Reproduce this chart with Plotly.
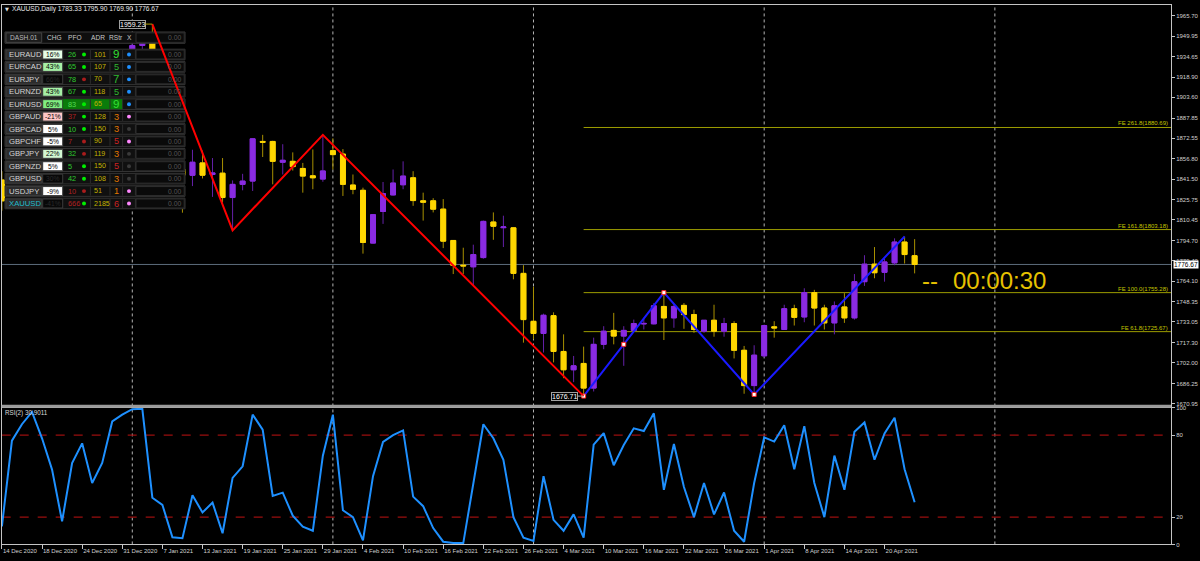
import datetime as dt
import plotly.graph_objects as go

W, H = 1200, 561

# ---------------- data ----------------
dates = [
    "2020-12-14", "2020-12-15", "2020-12-16", "2020-12-17", "2020-12-18", "2020-12-21", "2020-12-22",
    "2020-12-23", "2020-12-24", "2020-12-28", "2020-12-29", "2020-12-30", "2020-12-31",
    "2021-01-04", "2021-01-05", "2021-01-06", "2021-01-07", "2021-01-08", "2021-01-11", "2021-01-12",
    "2021-01-13", "2021-01-14", "2021-01-15", "2021-01-18", "2021-01-19", "2021-01-20", "2021-01-21",
    "2021-01-22", "2021-01-25", "2021-01-26", "2021-01-27", "2021-01-28", "2021-01-29",
    "2021-02-01", "2021-02-02", "2021-02-03", "2021-02-04", "2021-02-05", "2021-02-08", "2021-02-09",
    "2021-02-10", "2021-02-11", "2021-02-12", "2021-02-15", "2021-02-16", "2021-02-17", "2021-02-18",
    "2021-02-19", "2021-02-22", "2021-02-23", "2021-02-24", "2021-02-25", "2021-02-26",
    "2021-03-01", "2021-03-02", "2021-03-03", "2021-03-04", "2021-03-05", "2021-03-08", "2021-03-09",
    "2021-03-10", "2021-03-11", "2021-03-12", "2021-03-15", "2021-03-16", "2021-03-17", "2021-03-18",
    "2021-03-19", "2021-03-22", "2021-03-23", "2021-03-24", "2021-03-25", "2021-03-26", "2021-03-29",
    "2021-03-30", "2021-03-31",
    "2021-04-01", "2021-04-05", "2021-04-06", "2021-04-07", "2021-04-08", "2021-04-09", "2021-04-12",
    "2021-04-13", "2021-04-14", "2021-04-15", "2021-04-16", "2021-04-19", "2021-04-20", "2021-04-21",
    "2021-04-22", "2021-04-23",
]

opens = [
    1840.8, 1825.0, 1854.0, 1863.5, 1885.5, 1881.0, 1871.0, 1863.5, 1873.0, 1881.0, 1876.5, 1879.0, 1891.5,
    1898.0, 1943.0, 1949.5, 1918.5, 1913.0, 1849.0, 1844.4, 1853.8, 1845.0, 1846.0, 1827.5, 1837.5, 1840.0,
    1870.1, 1870.1, 1854.3, 1855.0, 1849.6, 1844.0, 1841.5,
    1863.1, 1860.5, 1837.0, 1833.0, 1792.9, 1816.9, 1829.5, 1837.2, 1842.5, 1825.0, 1825.0, 1818.7, 1794.9,
    1776.1, 1774.9, 1781.9, 1808.9, 1804.6, 1804.5, 1769.9,
    1733.5, 1724.3, 1737.8, 1710.6, 1696.7, 1701.5, 1682.8, 1716.0, 1726.6, 1722.3, 1726.6, 1731.5, 1731.6,
    1744.8, 1736.1, 1745.6, 1738.6, 1726.0, 1734.3, 1726.0, 1731.8, 1711.5, 1684.7,
    1707.3, 1729.3, 1727.3, 1743.1, 1736.8, 1755.3, 1743.6, 1732.3, 1744.4, 1736.1, 1763.6, 1776.9, 1770.7,
    1777.9, 1793.7, 1783.33,
]
highs = [
    1847.5, 1857.0, 1866.5, 1891.0, 1888.0, 1907.0, 1874.5, 1878.5, 1884.0, 1894.0, 1884.0, 1892.0, 1901.0,
    1945.0, 1952.5, 1959.23, 1926.0, 1917.0, 1864.0, 1863.8, 1863.1, 1857.5, 1857.5, 1840.5, 1845.5, 1872.6,
    1875.1, 1870.6, 1868.0, 1861.8, 1853.8, 1864.0, 1875.1,
    1872.5, 1864.3, 1845.0, 1835.0, 1815.0, 1839.3, 1848.8, 1855.0, 1847.5, 1831.2, 1827.0, 1826.3, 1795.0,
    1789.4, 1791.7, 1810.0, 1816.2, 1813.7, 1805.0, 1776.1,
    1759.8, 1739.3, 1740.3, 1723.6, 1707.2, 1714.3, 1721.1, 1729.8, 1739.9, 1729.8, 1734.8, 1736.1, 1747.4,
    1755.28, 1746.9, 1747.4, 1742.3, 1734.5, 1746.1, 1736.1, 1733.6, 1714.8, 1715.3,
    1731.0, 1733.6, 1746.1, 1746.1, 1758.6, 1757.4, 1746.1, 1748.6, 1754.9, 1769.4, 1783.7, 1789.9, 1781.2,
    1796.5, 1797.9, 1795.90,
]
lows = [
    1817.5, 1823.5, 1849.0, 1858.0, 1873.5, 1858.0, 1856.0, 1860.0, 1870.0, 1873.0, 1871.5, 1876.0, 1889.0,
    1897.0, 1934.0, 1901.0, 1907.0, 1836.0, 1816.0, 1836.2, 1842.0, 1828.0, 1823.7, 1802.6, 1833.0, 1832.5,
    1858.3, 1837.5, 1845.0, 1848.0, 1831.2, 1833.8, 1839.5,
    1848.8, 1828.7, 1830.0, 1784.9, 1792.5, 1807.5, 1829.0, 1833.8, 1821.2, 1810.0, 1816.2, 1789.1, 1769.4,
    1769.4, 1761.1, 1781.0, 1795.4, 1789.9, 1765.4, 1717.3,
    1719.8, 1709.8, 1702.3, 1690.3, 1687.3, 1676.71, 1680.2, 1712.3, 1716.0, 1699.7, 1726.0, 1727.3, 1731.1,
    1719.3, 1728.6, 1727.8, 1724.8, 1724.8, 1721.8, 1721.8, 1705.3, 1678.5, 1677.96,
    1706.0, 1721.1, 1727.0, 1730.3, 1732.8, 1730.3, 1727.3, 1723.6, 1732.3, 1734.8, 1760.4, 1766.2, 1763.6,
    1776.1, 1777.4, 1769.90,
]
closes = [
    1825.0, 1854.0, 1863.5, 1885.5, 1881.0, 1871.0, 1863.5, 1873.0, 1881.0, 1876.5, 1879.0, 1891.5, 1898.0,
    1943.0, 1949.5, 1918.5, 1913.0, 1849.0, 1844.4, 1854.3, 1844.5, 1846.2, 1827.5, 1837.5, 1840.0, 1872.1,
    1869.5, 1855.0, 1855.8, 1851.0, 1843.8, 1842.5, 1847.7,
    1860.1, 1837.5, 1833.8, 1793.4, 1814.5, 1830.5, 1838.5, 1843.8, 1825.2, 1824.0, 1818.7, 1794.4, 1776.1,
    1775.6, 1784.2, 1809.4, 1805.7, 1805.2, 1769.9, 1734.8,
    1724.3, 1738.1, 1710.6, 1696.7, 1699.7, 1682.8, 1716.0, 1726.0, 1722.3, 1726.6, 1731.8, 1731.9, 1745.3,
    1736.1, 1744.8, 1738.6, 1727.3, 1734.3, 1726.0, 1731.8, 1711.5, 1684.7, 1707.8,
    1730.3, 1728.5, 1743.1, 1736.5, 1755.3, 1743.6, 1732.3, 1745.3, 1736.1, 1763.6, 1776.9, 1770.4, 1778.6,
    1793.7, 1784.2, 1776.67,
]

rsi = [
    13.2, 76.0, 88.0, 97.0, 77.7, 54.8, 16.9, 59.6, 74.0, 45.0, 59.6, 90.0, 95.0,
    99.0, 99.3, 34.2, 29.0, 5.3, 4.6, 36.0, 23.4, 30.6, 8.2, 48.7, 57.2, 95.0,
    84.0, 35.5, 37.9, 21.0, 13.0, 10.0, 65.0,
    95.0, 25.0, 20.0, 3.0, 50.0, 75.0, 80.0, 83.5, 35.0, 28.0, 12.0, 2.0, 1.0,
    1.0, 45.0, 88.0, 77.7, 62.0, 20.0, 5.0,
    2.5, 50.0, 18.0, 10.0, 22.0, 5.0, 73.0, 81.5, 58.0, 72.8, 85.0, 83.0, 96.0,
    40.0, 73.5, 42.0, 20.0, 45.0, 22.0, 38.0, 10.0, 2.0, 45.0,
    78.4, 75.3, 87.3, 55.0, 86.6, 45.0, 20.0, 65.0, 40.0, 82.5, 89.3, 62.0, 81.3,
    92.7, 55.0, 30.9011,
]

price_ticks = [1965.70, 1949.95, 1934.65, 1918.90, 1903.60, 1887.85, 1872.55, 1856.80, 1841.50, 1825.75,
               1810.45, 1794.70, 1779.40, 1764.10, 1748.35, 1733.05, 1717.30, 1702.00, 1686.25, 1670.95]
rsi_ticks = [0, 20, 80, 100]
rsi_levels = [80, 20]

date_labels = ["14 Dec 2020", "18 Dec 2020", "24 Dec 2020", "31 Dec 2020", "7 Jan 2021", "13 Jan 2021",
               "19 Jan 2021", "25 Jan 2021", "29 Jan 2021", "4 Feb 2021", "10 Feb 2021", "16 Feb 2021",
               "22 Feb 2021", "26 Feb 2021", "4 Mar 2021", "10 Mar 2021", "16 Mar 2021", "22 Mar 2021",
               "26 Mar 2021", "1 Apr 2021", "8 Apr 2021", "14 Apr 2021", "20 Apr 2021"]

zigzag_red_dates = ["2021-01-06", "2021-01-18", "2021-01-29", "2021-03-08"]
zigzag_red_prices = [1959.23, 1802.6, 1875.1, 1676.71]
zigzag_blue_dates = ["2021-03-08", "2021-03-18", "2021-03-31", "2021-04-22"]
zigzag_blue_prices = [1676.71, 1755.28, 1677.96, 1797.9]
zz_marker_dates = ["2021-03-08", "2021-03-12", "2021-03-18", "2021-03-31"]
zz_marker_prices = [1676.71, 1716.0, 1755.28, 1677.96]

fe_names = ["FE 261.8", "FE 161.8", "FE 100.0", "FE 61.8"]
fe_levels = [1880.69, 1803.18, 1755.28, 1725.67]
fe_start_date = "2021-03-08"

last_price = 1776.67
header_text = "XAUUSD,Daily 1783.33 1795.90 1769.90 1776.67"
rsi_title = "RSI(2) 30.9011"
countdown = "00:00:30"

# dashboard
dash_symbols = ["EURAUD", "EURCAD", "EURJPY", "EURNZD", "EURUSD", "GBPAUD", "GBPCAD", "GBPCHF",
                "GBPJPY", "GBPNZD", "GBPUSD", "USDJPY", "XAUUSD"]
dash_chg = ["16%", "43%", "66%", "43%", "69%", "-21%", "5%", "-5%", "22%", "5%", "30%", "-9%", "-41%"]
dash_chg_bg = ["#e6ffe6", "#a6f0a6", "#080808", "#a6f0a6", "#80ee80", "#ffc6c6", "#ffffff", "#ffffff",
               "#d2f8d2", "#ffffff", "#080808", "#ffffff", "#080808"]
dash_pfo = [26, 65, 78, 67, 83, 37, 10, 7, 32, 5, 42, 10, 666]
dash_pfo_up = [True, True, True, True, True, False, True, False, True, True, True, False, False]
dash_pfo_dot_up = [True, True, False, True, True, True, True, False, False, True, True, False, True]
dash_adr = [101, 107, 70, 118, 65, 128, 150, 90, 119, 150, 108, 51, 2185]
dash_rstr = [9, 5, 7, 5, 9, 3, 3, 5, 3, 5, 3, 1, 6]
dash_rstr_col = ["#33e033", "#2eb82e", "#2eb82e", "#2eb82e", "#33e033", "#e07800", "#e07800", "#cc2222",
                 "#e07800", "#cc2222", "#e07800", "#e07800", "#cc2222"]
dash_x_col = ["#1e90ff", "#1e90ff", "#1e90ff", "#1e90ff", "#1e90ff", "#ff88ff", "#3a3a3a", "#ff88ff",
              "#3a3a3a", "#3a3a3a", "#3a3a3a", "#ff88ff", "#ff88ff"]
dash_values = ["0.00"] * 13
dash_headers = ["CHG", "PFO", "ADR", "RStr", "X"]

# ---------------- helpers ----------------
idx = list(range(len(dates)))
pos = {d: i for i, d in enumerate(dates)}


def fx(px):
    return px / W


def fy(py):
    return 1 - py / H


BAR_PX = 10.03
X0_PX = 1.9
PLOT_L, PLOT_R = 1.7, 1171.0
x_min = (PLOT_L - X0_PX) / BAR_PX
x_max = (PLOT_R - X0_PX) / BAR_PX

PX_PER_PT = 1.331
MAIN_TOP, MAIN_BOT = 2.0, 407.0
y_top = 1965.70 + (12.7 - MAIN_TOP) / PX_PER_PT
y_bot = y_top - (MAIN_BOT - MAIN_TOP) / PX_PER_PT

RSI_TOP, RSI_BOT = 409.2, 547.3

UP_FILL, UP_LINE = "#8a2be2", "#6420a8"
DN_FILL, DN_LINE = "#ffd700", "#a89000"
FONT = "Liberation Sans, Arial, sans-serif"

fig = go.Figure()

# wicks (dark outline)
fig.add_trace(go.Candlestick(
    x=idx, open=opens, high=highs, low=lows, close=closes,
    increasing=dict(fillcolor=UP_FILL, line=dict(color=UP_LINE, width=1)),
    decreasing=dict(fillcolor=DN_FILL, line=dict(color=DN_LINE, width=1)),
    whiskerwidth=0, xaxis="x", yaxis="y", showlegend=False, hoverinfo="skip"))
# bodies (bright outline)
body_hi = [max(o, c) for o, c in zip(opens, closes)]
body_lo = [min(o, c) for o, c in zip(opens, closes)]
fig.add_trace(go.Candlestick(
    x=idx, open=opens, high=body_hi, low=body_lo, close=closes,
    increasing=dict(fillcolor=UP_FILL, line=dict(color=UP_FILL, width=1)),
    decreasing=dict(fillcolor=DN_FILL, line=dict(color=DN_FILL, width=1)),
    whiskerwidth=0, xaxis="x", yaxis="y", showlegend=False, hoverinfo="skip"))

# blue zigzag
fig.add_trace(go.Scatter(x=[pos[d] for d in zigzag_blue_dates], y=zigzag_blue_prices, mode="lines",
                         line=dict(color="#1a1aff", width=2), xaxis="x", yaxis="y", showlegend=False,
                         hoverinfo="skip"))
fig.add_trace(go.Scatter(x=[pos[d] for d in zz_marker_dates], y=zz_marker_prices, mode="markers",
                         marker=dict(symbol="square", size=4, color="#ffffff",
                                     line=dict(color="#ff2020", width=1)),
                         xaxis="x", yaxis="y", showlegend=False, hoverinfo="skip"))

# RSI
fig.add_trace(go.Scatter(x=idx, y=rsi, mode="lines", line=dict(color="#1e90ff", width=2),
                         xaxis="x2", yaxis="y2", showlegend=False, hoverinfo="skip"))

shapes = []
annotations = []

# period separators (first bar of each month + next month in future)
seps = [i for i in range(1, len(dates)) if dates[i][5:7] != dates[i - 1][5:7]]
last_d = dt.date.fromisoformat(dates[-1])
next_month = dt.date(last_d.year + (last_d.month // 12), last_d.month % 12 + 1, 1)
seps.append(len(dates) - 1 + (next_month - last_d).days)
for s in seps:
    shapes.append(dict(type="line", xref="x", yref="paper", x0=s, x1=s, y0=fy(RSI_BOT), y1=fy(MAIN_TOP),
                       line=dict(color="#b4b4b4", width=1, dash="dot"), layer="below"))

# current price line
shapes.append(dict(type="line", xref="x domain", yref="y", x0=0, x1=1, y0=last_price, y1=last_price,
                   line=dict(color="#5c6c7c", width=1), layer="below"))

# FE levels
fe_x0 = pos[fe_start_date]
for name, lv in zip(fe_names, fe_levels):
    shapes.append(dict(type="line", xref="x", yref="y", x0=fe_x0, x1=x_max, y0=lv, y1=lv,
                       line=dict(color="#9c9c00", width=1), layer="below"))
    annotations.append(dict(xref="paper", yref="y", x=fx(1169.5), y=lv, xanchor="right", yanchor="bottom",
                            text=f"{name}({lv:.2f})", showarrow=False,
                            font=dict(family=FONT, size=6, color="#c4c400"), yshift=-1))

# RSI levels
for lv in rsi_levels:
    shapes.append(dict(type="line", xref="x2 domain", yref="y2", x0=0, x1=1, y0=lv, y1=lv,
                       line=dict(color="#9a0e0e", width=1.3, dash="dash"), layer="below"))

# pane separator
shapes.append(dict(type="rect", xref="paper", yref="paper", x0=fx(PLOT_L), x1=fx(PLOT_R),
                   y0=fy(409.0), y1=fy(406.2), fillcolor="#9a9a9a", line=dict(width=0), layer="above"))

# swing labels
annotations.append(dict(x=pos["2021-01-06"], y=1959.23, xref="x", yref="y", text="1959.23",
                        showarrow=True, arrowhead=0, arrowwidth=1, arrowcolor="#b0a000", ax=-20, ay=0,
                        bgcolor="#000000", bordercolor="#a0a0a0", borderwidth=1, borderpad=0,
                        font=dict(family=FONT, size=7, color="#ffffff")))
annotations.append(dict(x=pos["2021-03-08"], y=1676.71, xref="x", yref="y", text="1676.71",
                        showarrow=True, arrowhead=0, arrowwidth=1, arrowcolor="#b0b0b0", ax=-19, ay=0,
                        bgcolor="#000000", bordercolor="#a0a0a0", borderwidth=1, borderpad=0,
                        font=dict(family=FONT, size=7, color="#ffffff")))

# price tag
annotations.append(dict(xref="paper", yref="y", x=fx(1173), y=last_price, xanchor="left", yanchor="middle",
                        text=f"{last_price:.2f}", showarrow=False, bgcolor="#ffffff", borderpad=0,
                        font=dict(family=FONT, size=6.5, color="#000000")))

# header
annotations.append(dict(xref="paper", yref="paper", x=fx(3), y=fy(6.5), xanchor="left", yanchor="middle",
                        text="\u25bc", showarrow=False, font=dict(family="DejaVu Sans", size=5, color="#e0e0e0")))
annotations.append(dict(xref="paper", yref="paper", x=fx(10), y=fy(6.5), xanchor="left", yanchor="middle",
                        text=header_text, showarrow=False, font=dict(family=FONT, size=6.6, color="#e8e8e8")))
annotations.append(dict(xref="paper", yref="paper", x=fx(3), y=fy(414), xanchor="left", yanchor="middle",
                        text=rsi_title, showarrow=False, font=dict(family=FONT, size=6.3, color="#d8d8d8")))

# countdown
annotations.append(dict(xref="paper", yref="paper", x=fx(930), y=fy(281), xanchor="center", yanchor="middle",
                        text="--", showarrow=False, font=dict(family=FONT, size=24, color="#e6c200")))
annotations.append(dict(xref="paper", yref="paper", x=fx(951), y=fy(281), xanchor="left", yanchor="middle",
                        text=countdown, showarrow=False, font=dict(family=FONT, size=24, color="#e6c200")))


# ---------------- dashboard ----------------
def rect(x0, y0, x1, y1, fill, line="#333333", lw=1):
    shapes.append(dict(type="rect", xref="paper", yref="paper", x0=fx(x0), x1=fx(x1), y0=fy(y1), y1=fy(y0),
                       fillcolor=fill, line=dict(color=line, width=lw), layer="above"))


def dot(cx, cy, color, r=2.0):
    shapes.append(dict(type="circle", xref="paper", yref="paper", x0=fx(cx - r), x1=fx(cx + r),
                       y0=fy(cy + r), y1=fy(cy - r), fillcolor=color, line=dict(width=0), layer="above"))


def text(x, y, s, color, size, anchor="left", family=FONT):
    annotations.append(dict(xref="paper", yref="paper", x=fx(x), y=fy(y), xanchor=anchor, yanchor="middle",
                            text=s, showarrow=False, font=dict(family=family, size=size, color=color)))


ROW0, PITCH, ROWH = 46.7, 12.55, 10.7
n_rows = len(dash_symbols)

# header row
rect(5, 29.3, 185, 40.7, "#0e0e0e", "#3a3a3a")
rect(6, 30.2, 41.7, 39.8, "#1c1c1c", "#444444")
rect(136, 30.2, 184.2, 39.8, "#0a0a0a", "#2e2e2e")
text(24, 35.2, "DASH.01", "#b8b8b8", 6.6, "center")
for hx, hs in zip([54.3, 75, 97.7, 116, 129.3], dash_headers):
    text(hx, 35.2, hs, "#c8c8c8", 6.6, "center")
text(183, 35.2, "0.00", "#555555", 6.8, "right")

# backing behind data rows
rect(5, ROW0, 185, ROW0 + PITCH * (n_rows - 1) + ROWH, "#080808", "#080808", 0)

for i, sym in enumerate(dash_symbols):
    top = ROW0 + PITCH * i
    bot = top + ROWH
    cy = top + 5.4
    rect(5, top, 185, bot, "#101010", "#343434")
    rect(6, top + 0.8, 41.7, bot - 0.8, "#2c2c2c", "#3c3c3c")
    rect(42.7, top + 0.8, 62.7, bot - 0.8, dash_chg_bg[i], "#3c3c3c")
    if sym == "EURUSD":
        rect(63.2, top + 0.8, 122.3, bot - 0.8, "#0a7c0a", "#0a7c0a")
    for vx in [90.4, 110.0, 122.6, 135.4]:
        shapes.append(dict(type="line", xref="paper", yref="paper", x0=fx(vx), x1=fx(vx), y0=fy(bot - 0.8),
                           y1=fy(top + 0.8), line=dict(color="#2c2c2c", width=1), layer="above"))
    rect(136, top + 0.8, 184.2, bot - 0.8, "#0a0a0a", "#2e2e2e")
    text(7, cy, sym, "#22bccc" if sym == "XAUUSD" else "#d4d4d4", 7.7)
    dark = dash_chg_bg[i] == "#080808"
    text(52.7, cy, dash_chg[i], "#2a2a2a" if dark else "#000000", 6.7, "center")
    pfo_col = ("#55dd55" if sym == "EURUSD" else "#2ec82e") if dash_pfo_up[i] else "#b02020"
    text(65.5, cy, str(dash_pfo[i]), pfo_col, 7.4)
    dot(84, cy, "#00ee00" if dash_pfo_dot_up[i] else "#aa1c1c")
    text(91.6, cy, str(dash_adr[i]), "#c4b400", 7.1)
    big = dash_rstr[i] >= 7
    text(116.2, cy - (0.6 if big else 0), str(dash_rstr[i]), dash_rstr_col[i], 11.5 if big else 9.2, "center")
    dot(129, cy, dash_x_col[i])
    text(183, cy, dash_values[i], "#555555", 6.8, "right")

# red zigzag drawn above the dashboard (as in the reference)
red_path = "M " + " L ".join(f"{pos[d]},{p}" for d, p in zip(zigzag_red_dates, zigzag_red_prices))
shapes.append(dict(type="path", xref="x", yref="y", path=red_path,
                   line=dict(color="#ff0000", width=2), layer="above"))

# ---------------- axes ----------------
axis_col = "#c4c4c4"
label_font = dict(family=FONT, size=6, color="#d0d0d0")
xdom = [fx(PLOT_L), fx(PLOT_R)]
tick_idx = [i for i in range(0, len(dates), 4)]

fig.update_layout(
    width=W, height=H, margin=dict(l=0, r=0, t=0, b=0),
    paper_bgcolor="#000000", plot_bgcolor="#000000",
    showlegend=False, hovermode=False,
    xaxis=dict(domain=xdom, range=[x_min, x_max], anchor="y", showticklabels=False, ticks="",
               showgrid=False, zeroline=False, showline=True, mirror=True, linecolor=axis_col, linewidth=1,
               rangeslider=dict(visible=False)),
    yaxis=dict(domain=[fy(MAIN_BOT), fy(MAIN_TOP)], range=[y_bot, y_top], anchor="x", side="right",
               tickvals=price_ticks, ticktext=[f"{v:.2f}" for v in price_ticks], ticks="outside", ticklen=3,
               tickcolor=axis_col, tickfont=label_font, showgrid=False, zeroline=False, showline=True,
               mirror=True, linecolor=axis_col, linewidth=1),
    xaxis2=dict(domain=xdom, range=[x_min, x_max], anchor="y2", matches="x",
                tickvals=tick_idx, ticktext=date_labels, ticklabelposition="outside right", tickangle=0,
                ticks="outside", ticklen=4, tickcolor=axis_col, tickfont=label_font, showgrid=False,
                zeroline=False, showline=True, mirror=True, linecolor=axis_col, linewidth=1,
                rangeslider=dict(visible=False)),
    yaxis2=dict(domain=[fy(RSI_BOT), fy(RSI_TOP)], range=[0, 100], anchor="x2", side="right",
                tickvals=rsi_ticks, ticktext=[str(v) for v in rsi_ticks], ticks="outside", ticklen=3,
                tickcolor=axis_col, tickfont=label_font, showgrid=False, zeroline=False, showline=True,
                mirror=True, linecolor=axis_col, linewidth=1),
    shapes=shapes,
    annotations=annotations,
)

fig.write_html("out.html", config={"displayModeBar": False},
               post_script="document.body.style.margin='0px';")
